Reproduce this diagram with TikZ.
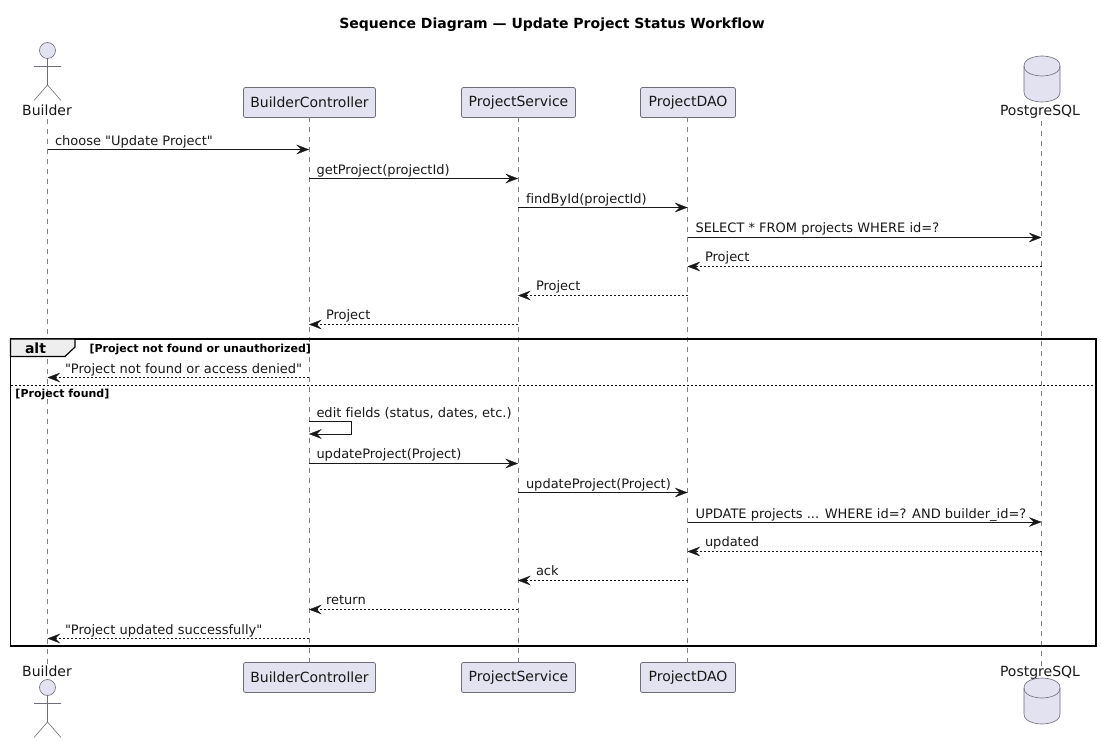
\documentclass[tikz,border=0pt]{standalone}
\usepackage{fontspec}
\setmainfont{DejaVu Sans}[Ligatures={TeXOff,NoCommon}]
\usetikzlibrary{arrows.meta,calc}
\definecolor{partfill}{HTML}{E2E2F0}
\definecolor{partline}{HTML}{6E6E78}
\definecolor{lifegray}{HTML}{808088}
\definecolor{ink}{HTML}{181818}
\definecolor{tabfill}{HTML}{EEEEEE}
\tikzset{
  x=1pt,y=1pt,
  every node/.style={inner sep=0pt,outer sep=0pt,text=ink,font=\fontsize{14}{16}\selectfont},
  partbox/.style={draw=partline,fill=partfill,line width=.8pt,rounded corners=2pt,minimum height=30pt,anchor=center},
  partlabel/.style={anchor=base},
  lifeline/.style={draw=lifegray,line width=.6pt,dash pattern=on 5pt off 5pt},
  glyph/.style={draw=partline,fill=partfill,line width=.6pt},
  msg/.style={draw=ink,line width=.9pt,-{Stealth[length=12.5pt,width=9.5pt,inset=4.5pt,line width=.3pt]}},
  reply/.style={msg,line width=.8pt,dash pattern=on 2pt off 2pt},
  msglabel/.style={anchor=base west,font=\fontsize{13}{15}\selectfont},
  frame/.style={draw=black,line width=1.5pt},
  guard/.style={anchor=base west,font=\fontsize{11}{13}\selectfont\bfseries,text=black},
}
\newcommand{\boxtext}[1]{\raisebox{-1.3pt}{#1}}
\newcommand{\stickman}[2]{%
  \draw[glyph] (#1,#2) circle[radius=8];
  \draw[glyph,fill=none] (#1,#2-8) -- (#1,#2-34.5) (#1-13.5,#2-16) -- (#1+13.5,#2-16)
    (#1-13.5,#2-50) -- (#1,#2-34.5) -- (#1+13.5,#2-50);}
\newcommand{\drum}[2]{% x centre, y top
  \draw[glyph] (#1-18,#2-10) .. controls (#1-18,#2) and (#1,#2) .. (#1,#2)
    .. controls (#1,#2) and (#1+18,#2) .. (#1+18,#2-10)
    -- (#1+18,#2-36) .. controls (#1+18,#2-46) and (#1,#2-46) .. (#1,#2-46)
    .. controls (#1,#2-46) and (#1-18,#2-46) .. (#1-18,#2-36) -- cycle;
  \draw[glyph,fill=none] (#1-18,#2-10) .. controls (#1-18,#2-20) and (#1,#2-20) .. (#1,#2-20)
    .. controls (#1,#2-20) and (#1+18,#2-20) .. (#1+18,#2-10);}
\newcommand{\msgR}[4][msg]{\draw[#1] (#2 |- 0,#4) -- (#3 |- 0,#4);}
\begin{document}
\begin{tikzpicture}
\useasboundingbox (0,0) rectangle (1101,-743);
\node[anchor=base,font=\fontsize{14}{16}\selectfont\bfseries,text=black] (title) at (552,-28.5) {Sequence Diagram — Update Project Status Workflow};

% lifeline x references and participants
\node[partlabel] (bT) at (47,-115.5) {Builder};
\node[partbox,minimum width=132pt] (cT) at (309.5,-102.5) {\boxtext{BuilderController}};
\node[partbox,minimum width=114pt] (sT) at (518.5,-102.5) {\boxtext{ProjectService}};
\node[partbox,minimum width=95pt]  (dT) at (688,-102.5) {\boxtext{ProjectDAO}};
\node[partlabel] (pT) at (1040,-115.5) {PostgreSQL};
\node[partlabel] (bB) at (47,-676) {Builder};
\node[partbox,minimum width=132pt] (cB) at (309.5,-677.5) {\boxtext{BuilderController}};
\node[partbox,minimum width=114pt] (sB) at (518.5,-677.5) {\boxtext{ProjectService}};
\node[partbox,minimum width=95pt]  (dB) at (688,-677.5) {\boxtext{ProjectDAO}};
\node[partlabel] (pB) at (1040,-676) {PostgreSQL};

\coordinate (bL) at (47.5,0);
\coordinate (cL) at (309,0);
\coordinate (sL) at (518,0);
\coordinate (dL) at (687.5,0);
\coordinate (pL) at (1041.5,0);

\draw[lifeline] (bL |- bT.south) ++(0,-3) -- (bL |- bB.north);
\draw[lifeline] (cL |- cT.south) -- (cL |- cB.north);
\draw[lifeline] (sL |- sT.south) -- (sL |- sB.north);
\draw[lifeline] (dL |- dT.south) -- (dL |- dB.north);
\draw[lifeline] (pL |- pT.south) ++(0,-3) -- (pL |- pB.north);

\stickman{47.5}{-50.5}
\stickman{47.5}{-687.5}
\drum{1042}{-56}
\drum{1042}{-678}

% frame
\draw[frame] (10.5,-339) rectangle (1096,-646);
\draw[draw=black,line width=1pt,dash pattern=on 2pt off 2pt] (10.5,-386) -- (1096,-386);
\draw[frame,fill=tabfill,line width=1.2pt] (10.5,-339) -- (75,-339) -- (75,-347) -- (65,-356.5) -- (10.5,-356.5) -- cycle;
\node[anchor=base west,font=\fontsize{14}{16}\selectfont\bfseries,text=black] (alt) at (25,-353.5) {alt};
\node[guard] (g1) at (89.5,-352.5) {[Project not found or unauthorized]};
\node[guard] (g2) at (15.5,-397.5) {[Project found]};

% messages
\msgR{bL}{cL}{-149.5}
\node[msglabel] (m1) at (55,-145.7) {choose "Update Project"};
\msgR{cL}{sL}{-178.5}
\node[msglabel] (m2) at (316.5,-174.7) {getProject(projectId)};
\msgR{sL}{dL}{-207.5}
\node[msglabel] (m3) at (526,-203.7) {findById(projectId)};
\msgR{dL}{pL}{-237.5}
\node[msglabel] (m4) at (695.5,-233) {SELECT * FROM projects WHERE id=?};
\msgR[reply]{pL}{dL}{-266.5}
\node[msglabel] (m5) at (705,-262) {Project};
\msgR[reply]{dL}{sL}{-295.5}
\node[msglabel] (m6) at (536,-291) {Project};
\msgR[reply]{sL}{cL}{-324.5}
\node[msglabel] (m7) at (326,-320) {Project};
\msgR[reply]{cL}{bL}{-377.5}
\node[msglabel] (m8) at (65,-373.7) {"Project not found or access denied"};
\coordinate (selfR) at (351.5,0);
\draw[msg] (cL |- 0,-421.5) -- (selfR |- 0,-421.5) -- (selfR |- 0,-434) -- (cL |- 0,-434);
\node[msglabel] (m9) at (316.5,-417.7) {edit fields (status, dates, etc.)};
\msgR{cL}{sL}{-463.5}
\node[msglabel] (m10) at (316.5,-458.5) {updateProject(Project)};
\msgR{sL}{dL}{-492.5}
\node[msglabel] (m11) at (526,-488) {updateProject(Project)};
\msgR{dL}{pL}{-522}
\node[msglabel] (m12) at (695.5,-518) {UPDATE projects ... WHERE id=? AND builder\_id=?};
\msgR[reply]{pL}{dL}{-551.5}
\node[msglabel] (m13) at (705,-546.5) {updated};
\msgR[reply]{dL}{sL}{-580.5}
\node[msglabel] (m14) at (536,-575.5) {ack};
\msgR[reply]{sL}{cL}{-609.5}
\node[msglabel] (m15) at (326,-604.5) {return};
\msgR[reply]{cL}{bL}{-638.5}
\node[msglabel] (m16) at (65,-634) {"Project updated successfully"};
\end{tikzpicture}
\end{document}
